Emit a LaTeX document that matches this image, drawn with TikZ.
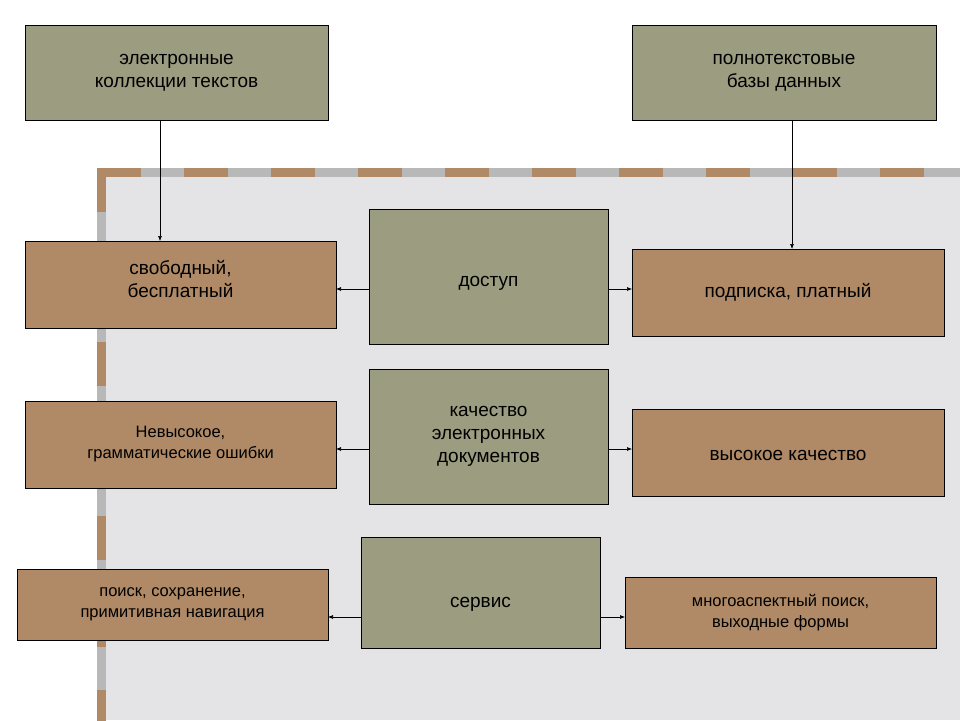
\documentclass[tikz,border=0pt]{standalone}
\usepackage{fontspec}
\setmainfont{Liberation Sans}
\usetikzlibrary{arrows.meta}
\definecolor{olv}{HTML}{9C9C80}
\definecolor{brn}{HTML}{B08A66}
\definecolor{mrb}{HTML}{E4E4E6}
\definecolor{sgray}{HTML}{B8B8B8}
\tikzset{
  gbox/.style={draw=black, line width=0.8pt, fill=olv},
  bbox/.style={draw=black, line width=0.8pt, fill=brn},
  conn/.style={line width=0.6pt, -{Latex[length=5pt,width=4pt]}},
  lbl/.style={align=center, font=\fontsize{19}{23}\selectfont},
  slbl/.style={align=center, font=\fontsize{16.5}{21}\selectfont},
}
\begin{document}
\begin{tikzpicture}[x=1pt,y=-1pt]
\useasboundingbox (0,0) rectangle (960,720);
\fill[white] (0,0) rectangle (960,720);
\fill[mrb] (97,168) rectangle (960,720);
% striped border
\foreach \i in {0,...,20}{
  \pgfmathsetmacro{\xa}{97+\i*43.5}
  \pgfmathsetmacro{\xb}{\xa+43.5}
  \ifodd\i \fill[sgray] (\xa,168) rectangle (\xb,177); \else \fill[brn] (\xa,168) rectangle (\xb,177); \fi
}
\foreach \i in {0,...,13}{
  \pgfmathsetmacro{\ya}{168+\i*43.5}
  \pgfmathsetmacro{\yb}{\ya+43.5}
  \ifodd\i \fill[sgray] (97,\ya) rectangle (106,\yb); \else \fill[brn] (97,\ya) rectangle (106,\yb); \fi
}
% boxes
\draw[gbox] (25,25) rectangle (328,120) node[midway,lbl] (t1) {электронные\\коллекции текстов};
\coordinate (t1s) at (160,120);
\draw[gbox] (632,25) rectangle (936,120) node[midway,lbl] (t2) {полнотекстовые\\базы данных};
\coordinate (t2s) at (792,120);

\draw[bbox] (25,241) rectangle (336,328) node[midway,lbl,yshift=5] (a1) {свободный,\\бесплатный};
\draw[gbox] (369,209) rectangle (608,344) node[pos=0.5,lbl,yshift=-7] (a) {доступ};
\draw[bbox] (632,249) rectangle (944,336) node[midway,lbl] (a2) {подписка, платный};

\draw[bbox] (25,401) rectangle (336,488) node[midway,slbl] (b1) {Невысокое,\\грамматические ошибки};
\draw[gbox] (369,369) rectangle (608,504) node[midway,lbl] (b) {качество\\электронных\\документов};
\draw[bbox] (632,409) rectangle (944,496) node[midway,lbl,yshift=-3] (b2) {высокое качество};

\draw[bbox] (17,569) rectangle (328,640) node[midway,slbl] (c1) {поиск, сохранение,\\примитивная навигация};
\draw[gbox] (361,537) rectangle (600,648) node[midway,lbl,yshift=-12] (c) {сервис};
\draw[bbox] (625,577) rectangle (936,648) node[midway,slbl] (c2) {многоаспектный поиск,\\выходные формы};

\coordinate (e1) at (160,241);
\coordinate (e2) at (792,249);
\draw[conn] (t1s) -- (e1);
\draw[conn] (t2s) -- (e2);

\coordinate (aL) at (369,289); \coordinate (aLe) at (336,289);
\coordinate (aR) at (608,289); \coordinate (aRe) at (632,289);
\draw[conn] (aL) -- (aLe); \draw[conn] (aR) -- (aRe);
\coordinate (bL) at (369,449); \coordinate (bLe) at (336,449);
\coordinate (bR) at (608,449); \coordinate (bRe) at (632,449);
\draw[conn] (bL) -- (bLe); \draw[conn] (bR) -- (bRe);
\coordinate (cL) at (361,617); \coordinate (cLe) at (328,617);
\coordinate (cR) at (600,617); \coordinate (cRe) at (625,617);
\draw[conn] (cL) -- (cLe); \draw[conn] (cR) -- (cRe);
\end{tikzpicture}
\end{document}
